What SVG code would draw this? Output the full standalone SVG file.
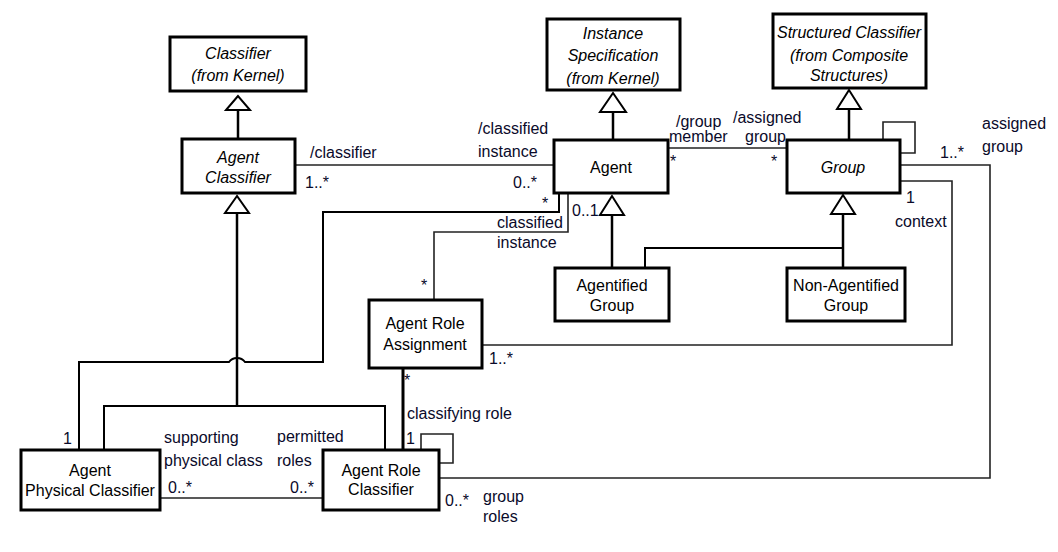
<svg xmlns="http://www.w3.org/2000/svg" width="1058" height="552" viewBox="0 0 1058 552">
<style>
.box{fill:#fff;stroke:#000;stroke-width:3}
.t{font-family:"Liberation Sans",Arial,sans-serif;font-size:16px;fill:#000;text-anchor:middle}
.i{font-style:italic}
.l{font-family:"Liberation Sans",Arial,sans-serif;font-size:16px;fill:#0a0a2a}
.e{text-anchor:end}
.c{fill:none;stroke:#000;stroke-width:2}
.a{fill:none;stroke:#222;stroke-width:1.6}
.g{fill:none;stroke:#000;stroke-width:2.5}
.tri{fill:#fff;stroke:#000;stroke-width:2}
</style>
<rect width="1058" height="552" fill="#fff"/>
<g id="connectors">
<!-- generalizations -->
<line class="g" x1="238" y1="110" x2="238" y2="139"/>
<polygon class="tri" points="238,96 226,110 250,110"/>
<line class="g" x1="237" y1="213" x2="237" y2="406"/>
<polygon class="tri" points="237,196 225,213 249,213"/>
<path class="c" d="M104,450 V406 H385 V450"/>
<line class="g" x1="613" y1="112" x2="613" y2="140"/>
<polygon class="tri" points="613,93 600,112 626,112"/>
<line class="g" x1="849" y1="109" x2="849" y2="140"/>
<polygon class="tri" points="849,90 837,109 861,109"/>
<line class="g" x1="612" y1="215" x2="612" y2="268"/>
<polygon class="tri" points="612,196 600,215 624,215"/>
<line class="g" x1="843" y1="214" x2="843" y2="268"/>
<polygon class="tri" points="843,195 831,214 855,214"/>
<path class="c" d="M645,268 V248 H843"/>
<!-- associations -->
<line class="a" x1="295" y1="165" x2="554" y2="165"/>
<line class="a" x1="668" y1="148" x2="787" y2="148"/>
<path class="c" d="M79,450 V362 H229 A10,10 0 0 1 245,362 H323 V212 H559 V193"/>
<path class="a" d="M568,193 V232 H434 V300"/>
<path class="a" d="M883,140 V122 H915 V153 H900"/>
<path class="a" d="M900,165 H990 V478 H439"/>
<path class="a" d="M900,181 H952 V345 H482"/>
<line class="g" x1="403" y1="368" x2="403" y2="450" style="stroke-width:3"/>
<path class="a" d="M421,450 V434 H453 V463 H439"/>
<line class="a" x1="160" y1="498" x2="323" y2="498"/>
</g>
<g id="classifier">
<rect class="box" x="170" y="37" width="136" height="54"/>
<text class="t i" x="238" y="59">Classifier</text>
<text class="t i" x="238" y="81">(from Kernel)</text>
</g>
<g id="agent-classifier">
<rect class="box" x="182" y="139" width="113" height="54"/>
<text class="t i" x="238" y="163">Agent</text>
<text class="t i" x="238" y="183">Classifier</text>
</g>
<g id="instance-specification">
<rect class="box" x="547" y="19" width="133" height="71"/>
<text class="t i" x="613" y="39">Instance</text>
<text class="t i" x="613" y="61">Specification</text>
<text class="t i" x="613" y="84">(from Kernel)</text>
</g>
<g id="agent">
<rect class="box" x="554" y="140" width="114" height="53"/>
<text class="t" x="611" y="173">Agent</text>
</g>
<g id="structured-classifier">
<rect class="box" x="773" y="14" width="153" height="74"/>
<text class="t i" x="849" y="38">Structured Classifier</text>
<text class="t i" x="849" y="61">(from Composite</text>
<text class="t i" x="849" y="81">Structures)</text>
</g>
<g id="group">
<rect class="box" x="787" y="140" width="113" height="53"/>
<text class="t i" x="843" y="173">Group</text>
</g>
<g id="agentified-group">
<rect class="box" x="555" y="268" width="114" height="53"/>
<text class="t" x="612" y="291">Agentified</text>
<text class="t" x="612" y="311">Group</text>
</g>
<g id="non-agentified-group">
<rect class="box" x="787" y="268" width="118" height="53"/>
<text class="t" x="846" y="291">Non-Agentified</text>
<text class="t" x="846" y="311">Group</text>
</g>
<g id="agent-role-assignment">
<rect class="box" x="369" y="300" width="113" height="68"/>
<text class="t" x="425" y="329">Agent Role</text>
<text class="t" x="425" y="350">Assignment</text>
</g>
<g id="agent-physical-classifier">
<rect class="box" x="21" y="450" width="139" height="60"/>
<text class="t" x="90" y="476">Agent</text>
<text class="t" x="90" y="496">Physical Classifier</text>
</g>
<g id="agent-role-classifier">
<rect class="box" x="323" y="450" width="116" height="60"/>
<text class="t" x="381" y="476">Agent Role</text>
<text class="t" x="381" y="495">Classifier</text>
</g>
<g id="labels">
<text class="l" x="310" y="158">/classifier</text>
<text class="l" x="305" y="188">1..*</text>
<text class="l" x="478" y="134">/classified</text>
<text class="l" x="478" y="157">instance</text>
<text class="l e" x="537" y="188">0..*</text>
<text class="l" x="542" y="209">*</text>
<text class="l" x="497" y="228">classified</text>
<text class="l" x="497" y="248">instance</text>
<text class="l" x="572" y="216">0..1</text>
<text class="l" x="676" y="127">/group</text>
<text class="l" x="669" y="142">member</text>
<text class="l" x="733" y="123">/assigned</text>
<text class="l" x="745" y="142">group</text>
<text class="l" x="670" y="167">*</text>
<text class="l" x="771" y="167">*</text>
<text class="l" x="940" y="158">1..*</text>
<text class="l" x="982" y="129">assigned</text>
<text class="l" x="982" y="152">group</text>
<text class="l" x="906" y="203">1</text>
<text class="l" x="895" y="227">context</text>
<text class="l" x="421" y="291">*</text>
<text class="l" x="489" y="364">1..*</text>
<text class="l" x="404" y="386">*</text>
<text class="l" x="407" y="419">classifying role</text>
<text class="l" x="406" y="444">1</text>
<text class="l" x="164" y="443">supporting</text>
<text class="l" x="164" y="466">physical class</text>
<text class="l" x="168" y="493">0..*</text>
<text class="l" x="277" y="442">permitted</text>
<text class="l" x="277" y="466">roles</text>
<text class="l" x="290" y="493">0..*</text>
<text class="l" x="63" y="444">1</text>
<text class="l" x="445" y="506">0..*</text>
<text class="l" x="483" y="502">group</text>
<text class="l" x="483" y="522">roles</text>
</g>
</svg>
